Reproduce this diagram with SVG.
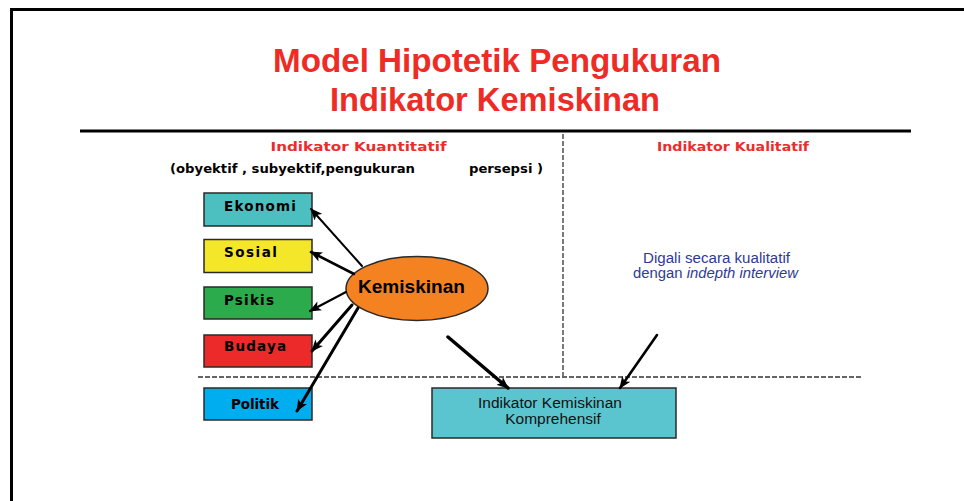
<svg xmlns="http://www.w3.org/2000/svg" width="964" height="501" viewBox="0 0 964 501">
<style>
.title{font-family:"Liberation Sans",Arial,sans-serif;font-weight:bold;font-size:33px;fill:#EE2B24;text-anchor:middle}
.sub{font-family:"DejaVu Sans",Verdana,sans-serif;font-weight:bold;font-size:13px;fill:#EE2B2B}
.paren{font-family:"DejaVu Sans",Verdana,sans-serif;font-weight:bold;font-size:12px;fill:#000}
.box rect{stroke:#2a2a2a;stroke-width:1.5}
.box text{font-family:"DejaVu Sans",Verdana,sans-serif;font-weight:bold;font-size:13.5px;fill:#000}
.blue{font-family:"Liberation Sans",Arial,sans-serif;font-size:14px;fill:#2E3A94}
.conn line{stroke:#000;stroke-linecap:round;marker-end:url(#ah)}
</style>
<defs>
<marker id="ah" markerUnits="userSpaceOnUse" viewBox="0 0 12 10" refX="11" refY="5" markerWidth="12" markerHeight="10" orient="auto">
<path d="M0,0 L12,5 L0,10 L3,5 Z" fill="#000"/>
</marker>
</defs>
<rect width="964" height="501" fill="#fff"/>
<rect x="11.5" y="9.5" width="1000" height="540" fill="none" stroke="#000" stroke-width="3"/>
<g id="title">
<text class="title" x="497" y="72" textLength="448" lengthAdjust="spacingAndGlyphs">Model Hipotetik Pengukuran</text>
<text class="title" x="495" y="111" textLength="330" lengthAdjust="spacingAndGlyphs">Indikator Kemiskinan</text>
</g>
<line x1="80" y1="131" x2="911" y2="131" stroke="#000" stroke-width="3"/>
<g id="dividers" fill="none" stroke="#333" stroke-width="1.3" stroke-dasharray="5,2">
<line x1="563" y1="134" x2="563" y2="376"/>
<line x1="198" y1="377" x2="863" y2="377"/>
</g>
<g id="headers">
<text class="sub" x="270.5" y="151" textLength="176" lengthAdjust="spacingAndGlyphs">Indikator Kuantitatif</text>
<text class="paren" x="170" y="173" textLength="245" lengthAdjust="spacingAndGlyphs">(obyektif , subyektif,pengukuran</text>
<text class="paren" x="469" y="173" textLength="74" lengthAdjust="spacingAndGlyphs">persepsi )</text>
<text class="sub" x="657" y="151" textLength="152" lengthAdjust="spacingAndGlyphs">Indikator Kualitatif</text>
</g>
<g id="ekonomi" class="box">
<rect x="204" y="193" width="108" height="33" fill="#4CC0C0"/>
<text x="224" y="211" textLength="72" lengthAdjust="spacing">Ekonomi</text>
</g>
<g id="sosial" class="box">
<rect x="204" y="239.5" width="108" height="33" fill="#F4E72A"/>
<text x="224" y="257" textLength="53" lengthAdjust="spacing">Sosial</text>
</g>
<g id="psikis" class="box">
<rect x="204" y="287" width="108" height="32" fill="#2BAB4C"/>
<text x="224" y="305" textLength="50" lengthAdjust="spacing">Psikis</text>
</g>
<g id="budaya" class="box">
<rect x="204" y="335" width="108" height="32" fill="#EC2A2A"/>
<text x="224" y="351" textLength="62" lengthAdjust="spacing">Budaya</text>
</g>
<g id="politik" class="box">
<rect x="204" y="388" width="108" height="32" fill="#00ADEE"/>
<text x="231" y="409" textLength="48" lengthAdjust="spacing">Politik</text>
</g>
<g id="kemiskinan">
<ellipse cx="417" cy="288.5" rx="71" ry="32" fill="#F58220" stroke="#2a2a2a" stroke-width="1.5"/>
<text x="411.5" y="292.5" text-anchor="middle" font-family="'Liberation Sans',Arial,sans-serif" font-weight="bold" font-size="19" fill="#000" textLength="107" lengthAdjust="spacingAndGlyphs">Kemiskinan</text>
</g>
<g id="komprehensif">
<rect x="432" y="388" width="244" height="50" fill="#5BC5CF" stroke="#2a2a2a" stroke-width="1.5"/>
<text x="550" y="408" text-anchor="middle" font-family="'Liberation Sans',Arial,sans-serif" font-size="15.5" fill="#111">Indikator Kemiskinan</text>
<text x="553" y="424" text-anchor="middle" font-family="'Liberation Sans',Arial,sans-serif" font-size="15.5" fill="#111">Komprehensif</text>
</g>
<g id="kualitatif-note">
<text class="blue" x="643" y="262.5" textLength="147" lengthAdjust="spacingAndGlyphs">Digali secara kualitatif</text>
<text class="blue" x="633" y="278" textLength="165" lengthAdjust="spacingAndGlyphs">dengan <tspan font-style="italic">indepth interview</tspan></text>
</g>
<g id="connectors" class="conn">
<line x1="362" y1="266" x2="311" y2="209" stroke-width="2"/>
<line x1="354" y1="274" x2="311" y2="252" stroke-width="2.6"/>
<line x1="346" y1="292" x2="310" y2="311" stroke-width="2.2"/>
<line x1="352" y1="305" x2="312" y2="351" stroke-width="3"/>
<line x1="358" y1="308" x2="297" y2="411" stroke-width="3"/>
<line x1="448" y1="337" x2="508" y2="388" stroke-width="3.5"/>
<line x1="657" y1="335" x2="620" y2="388" stroke-width="2.6"/>
</g>
</svg>
